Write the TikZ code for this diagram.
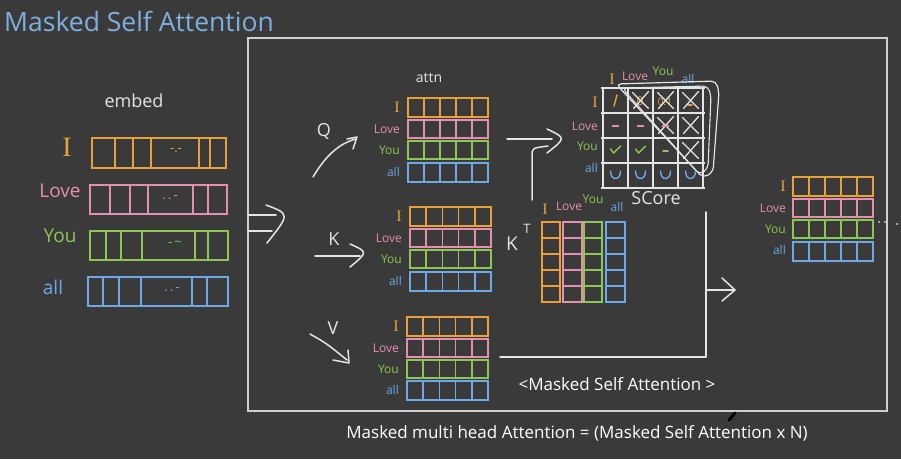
\documentclass[tikz,border=0pt]{standalone}
\usepackage{fontspec}
\setmainfont{Open Sans}
\newfontfamily\handI{Liberation Serif}
\usetikzlibrary{arrows.meta}
\definecolor{bg}{HTML}{3A3A3A}
\definecolor{cOr}{HTML}{E9A23B}
\definecolor{cPk}{HTML}{E58FB0}
\definecolor{cGr}{HTML}{8DC653}
\definecolor{cBl}{HTML}{6FA8E6}
\definecolor{cWh}{HTML}{E4E4E4}
\definecolor{cTitle}{HTML}{7FAFDF}
\definecolor{cFrame}{HTML}{CFCFCF}
\newcommand\fs[1]{\fontsize{#1}{#1}\selectfont}
% five-cell row: x1 y1 x2 y2 colour
\newcommand\fiverow[5]{%
  \draw[#5,cellline] (#1,#2) rectangle (#3,#4);
  \foreach \k in {1,2,3,4}{\draw[#5,cellline] ({#1+\k*(#3-#1)/5},#2) -- ({#1+\k*(#3-#1)/5},#4);}%
}
% four labels right-aligned at x, rows centred at y1..y4
\newcommand\rowlabels[6]{%
  \node[lbl,anchor=east,text=cOr] (#1-i) at (#2,#3) {\handI\fs{16}I};
  \node[lbl,anchor=east,text=cPk] (#1-love) at (#2,#4) {Love};
  \node[lbl,anchor=east,text=cGr] (#1-you) at (#2,#5) {You};
  \node[lbl,anchor=east,text=cBl] (#1-all) at (#2,#6) {all};
}
\tikzset{
  cellline/.style={line width=1.6pt},
  hand/.style={cWh,line width=1.5pt,line cap=round,line join=round},
  lbl/.style={inner sep=0pt,font=\fs{12}},
  xmark/.style={cWh,line width=1.3pt,line cap=round},
}
\begin{document}
\begin{tikzpicture}[x=1pt,y=-1pt]
\fill[bg] (0,0) rectangle (901,459);
\useasboundingbox (0,0) rectangle (901,459);

% title and frame
\node[anchor=west,text=cTitle,inner sep=0pt,font=\fs{26.5}] (title) at (4,21) {Masked Self Attention};
\draw[cFrame,line width=1.2pt] (248,38) rectangle (887,411);

% ---------- embedding ----------
\node[text=cWh,inner sep=0pt,font=\fs{18}] (embed) at (134,101) {embed};
\draw[cOr,cellline] (92,138) rectangle (226,168);
\foreach \x in {115,133,151,199,210}{\draw[cOr,cellline] (\x,138) -- (\x,168);}
\node[text=cOr,inner sep=0pt,font=\fs{13}] (edotI) at (176,151) {-.-};
\draw[cPk,cellline] (90,185) rectangle (227,214);
\foreach \x in {110,130,148,193,208}{\draw[cPk,cellline] (\x,185) -- (\x,214);}
\node[text=cPk,inner sep=0pt,font=\fs{13}] (edotL) at (170,198) {.\,.\,-};
\draw[cGr,cellline] (90,231) rectangle (228,260);
\foreach \x in {106,121,142,195,208}{\draw[cGr,cellline] (\x,231) -- (\x,260);}
\node[text=cGr,inner sep=0pt,font=\fs{13}] (edotY) at (175,244) {-\,\char`\~};
\draw[cBl,cellline] (88,277) rectangle (228,306);
\foreach \x in {103,119,141,192,207}{\draw[cBl,cellline] (\x,277) -- (\x,306);}
\node[text=cBl,inner sep=0pt,font=\fs{13}] (edotA) at (172,290) {.\,.\,-};
\node[text=cOr,inner sep=0pt,font=\handI\fs{28}] (e-i) at (67,147) {I};
\node[text=cPk,inner sep=0pt,font=\fs{19}] (e-love) at (60,191) {Love};
\node[text=cGr,inner sep=0pt,font=\fs{19}] (e-you) at (60,236) {You};
\node[text=cBl,inner sep=0pt,font=\fs{19}] (e-all) at (53,287) {all};

% => into frame
\coordinate (ia) at (248,215); \coordinate (ib) at (248,231);
\draw[hand] (ia) -- (276,215);
\draw[hand] (ib) -- (272,231);
\draw[hand] (266,205) .. controls (290,214) .. (267,243);

% ---------- Q ----------
\node[text=cWh,inner sep=0pt,font=\fs{14}] (attn) at (429,78) {attn};
\fiverow{408}{98}{488}{117}{cOr}
\fiverow{408}{120}{488}{138}{cPk}
\fiverow{408}{141}{488}{159}{cGr}
\fiverow{408}{163}{488}{182}{cBl}
\rowlabels{q}{400}{107}{129}{150}{172}
\node[text=cWh,inner sep=0pt,font=\fs{18}] (Q) at (324,131) {Q};
\coordinate (qs) at (313,177); \coordinate (qe) at (356,139);
\draw[hand] (qs) .. controls (326,155) and (340,143) .. (qe);
\draw[hand] (347,139) -- (357,137) -- (353,149);

% ---------- K ----------
\fiverow{410}{207}{491}{226}{cOr}
\fiverow{410}{229}{491}{247}{cPk}
\fiverow{410}{250}{491}{268}{cGr}
\fiverow{410}{272}{491}{291}{cBl}
\rowlabels{k}{402}{216}{238}{259}{281}
\node[text=cWh,inner sep=0pt,font=\fs{18}] (K) at (334,239) {K};
\coordinate (ks) at (315,256); \coordinate (ke) at (360,256);
\draw[hand] (ks) -- (ke);
\draw[hand] (350,244) .. controls (368,252) .. (350,267);

% ---------- V ----------
\fiverow{407}{317}{488}{336}{cOr}
\fiverow{407}{339}{488}{357}{cPk}
\fiverow{407}{360}{488}{378}{cGr}
\fiverow{407}{381}{488}{400}{cBl}
\rowlabels{v}{399}{326}{348}{369}{390}
\node[text=cWh,inner sep=0pt,font=\fs{18}] (V) at (333,328) {V};
\coordinate (vs) at (310,334); \coordinate (ve) at (347,360);
\draw[hand] (vs) .. controls (326,343) .. (ve);
\draw[hand] (333,360) -- (349,363) -- (348,350);

% ---------- K^T ----------
\node[text=cWh,inner sep=0pt,font=\fs{19}] (KT) at (512,244) {K};
\node[text=cWh,inner sep=0pt,font=\fs{13}] (KTt) at (527,229) {T};
\foreach \xa/\xb/\c in {542/560/cOr,563/582/cPk,584/602/cGr,606/625/cBl}{
  \draw[\c,cellline] (\xa,222) rectangle (\xb,302);
  \foreach \y in {238,254,270,286}{\draw[\c,cellline] (\xa,\y) -- (\xb,\y);}
}
\node[text=cOr,inner sep=0pt,font=\handI\fs{16}] (kt-i) at (545,209) {I};
\node[text=cPk,inner sep=0pt,font=\fs{12}] (kt-love) at (569,206) {Love};
\node[text=cGr,inner sep=0pt,font=\fs{12}] (kt-you) at (593,199) {You};
\node[text=cBl,inner sep=0pt,font=\fs{12}] (kt-all) at (617,207) {all};

% ---------- arrows into score ----------
\coordinate (sa) at (507,139); \coordinate (sb) at (552,139);
\draw[hand] (sa) -- (sb);
\draw[hand] (547,129) .. controls (566,138) .. (547,153);
\coordinate (kl) at (532,200);
\draw[hand] (kl) -- (532,156) .. controls (532,148) .. (548,146);

% ---------- score matrix ----------
\foreach \i in {0,1,2,3,4}{
  \draw[cWh,line width=1.4pt] ({603+25*\i},87) -- ({603+25*\i},189);
  \draw[cWh,line width=1.4pt] (601,{88+25*\i}) -- (705,{88+25*\i});
}
\rowlabels{s}{598}{102}{126}{146}{168}
\node[text=cOr,inner sep=0pt,font=\handI\fs{16}] (s-ci) at (612,79) {I};
\node[text=cPk,inner sep=0pt,font=\fs{12}] (s-clove) at (635,76) {Love};
\node[text=cGr,inner sep=0pt,font=\fs{12}] (s-cyou) at (663,71) {You};
\node[text=cBl,inner sep=0pt,font=\fs{12}] (s-call) at (688,79) {all};
% mask outline
\draw[cWh,line width=1.2pt,rounded corners=5pt] (616,84) -- (716,81) -- (719,92) -- (713,172) -- (703,178) -- cycle;
\draw[cWh,line width=1.1pt,rounded corners=5pt] (622,88) -- (708,86) -- (711,96) -- (708,168) -- (700,175) -- cycle;
% cell contents
\draw[cOr,line width=1.4pt,line cap=round] (614,106) -- (617,95);
\node[text=cOr,inner sep=0pt,font=\fs{12}] (s12) at (640,101) {0};
\node[text=cOr,inner sep=0pt,font=\fs{10}] (s13) at (665,102) {0.1};
\draw[cOr,line width=1.4pt,line cap=round] (688,105) -- (692,105);
\foreach \cx/\cy in {640.5/100.5,665.5/100.5,690.5/100.5,665.5/125.5,690.5/125.5,690.5/150.5}{
  \draw[xmark] (\cx-8,\cy-8) -- (\cx+8,\cy+8);
  \draw[xmark] (\cx+8,\cy-9) -- (\cx-7,\cy+8);
}
\foreach \cx in {615.5,640.5,665.5}{\draw[cPk,line width=1.4pt,line cap=round] (\cx-3,126) -- (\cx+3,126);}
\foreach \cx in {615.5,640.5}{\draw[cGr,line width=1.4pt,line cap=round,line join=round] (\cx-5,149) -- (\cx-2,153) -- (\cx+5,146);}
\draw[cGr,line width=1.4pt,line cap=round] (663,151) -- (668,151);
\foreach \cx in {615.5,640.5,665.5,690.5}{\draw[cBl,line width=1.4pt,line cap=round] (\cx-5,171) .. controls (\cx-5,181) and (\cx+5,181) .. (\cx+5,171);}
\node[text=cWh,inner sep=0pt,font=\fs{18}] (score) at (656,198) {SCore};

% ---------- output path ----------
\coordinate (oa) at (500,357); \coordinate (ob) at (706,357); \coordinate (oc) at (706,212);
\draw[hand] (oa) -- (ob) -- (oc);
\coordinate (od) at (706,290); \coordinate (oe) at (734,290);
\draw[hand] (od) -- (oe);
\draw[hand] (722,278) -- (735,290) -- (722,301);

% ---------- output ----------
\fiverow{793}{177}{873}{196}{cOr}
\fiverow{793}{199}{873}{217}{cPk}
\fiverow{793}{220}{873}{238}{cGr}
\fiverow{793}{242}{873}{261}{cBl}
\rowlabels{o}{786}{186}{208}{229}{250}
\foreach \x/\y in {879/222,885/222,897/224}{\fill[cWh] (\x,\y) circle (1pt);}

% ---------- captions ----------
\node[text=white,inner sep=0pt,font=\fs{17}] (msa) at (617,384) {<Masked Self Attention >};
\node[text=white,inner sep=0pt,font=\fs{17}] (mmha) at (577,433) {Masked multi head Attention = (Masked Self Attention x N)};
\draw[black,line width=3pt,line cap=round] (729,420) -- (735,413);
\end{tikzpicture}
\end{document}
